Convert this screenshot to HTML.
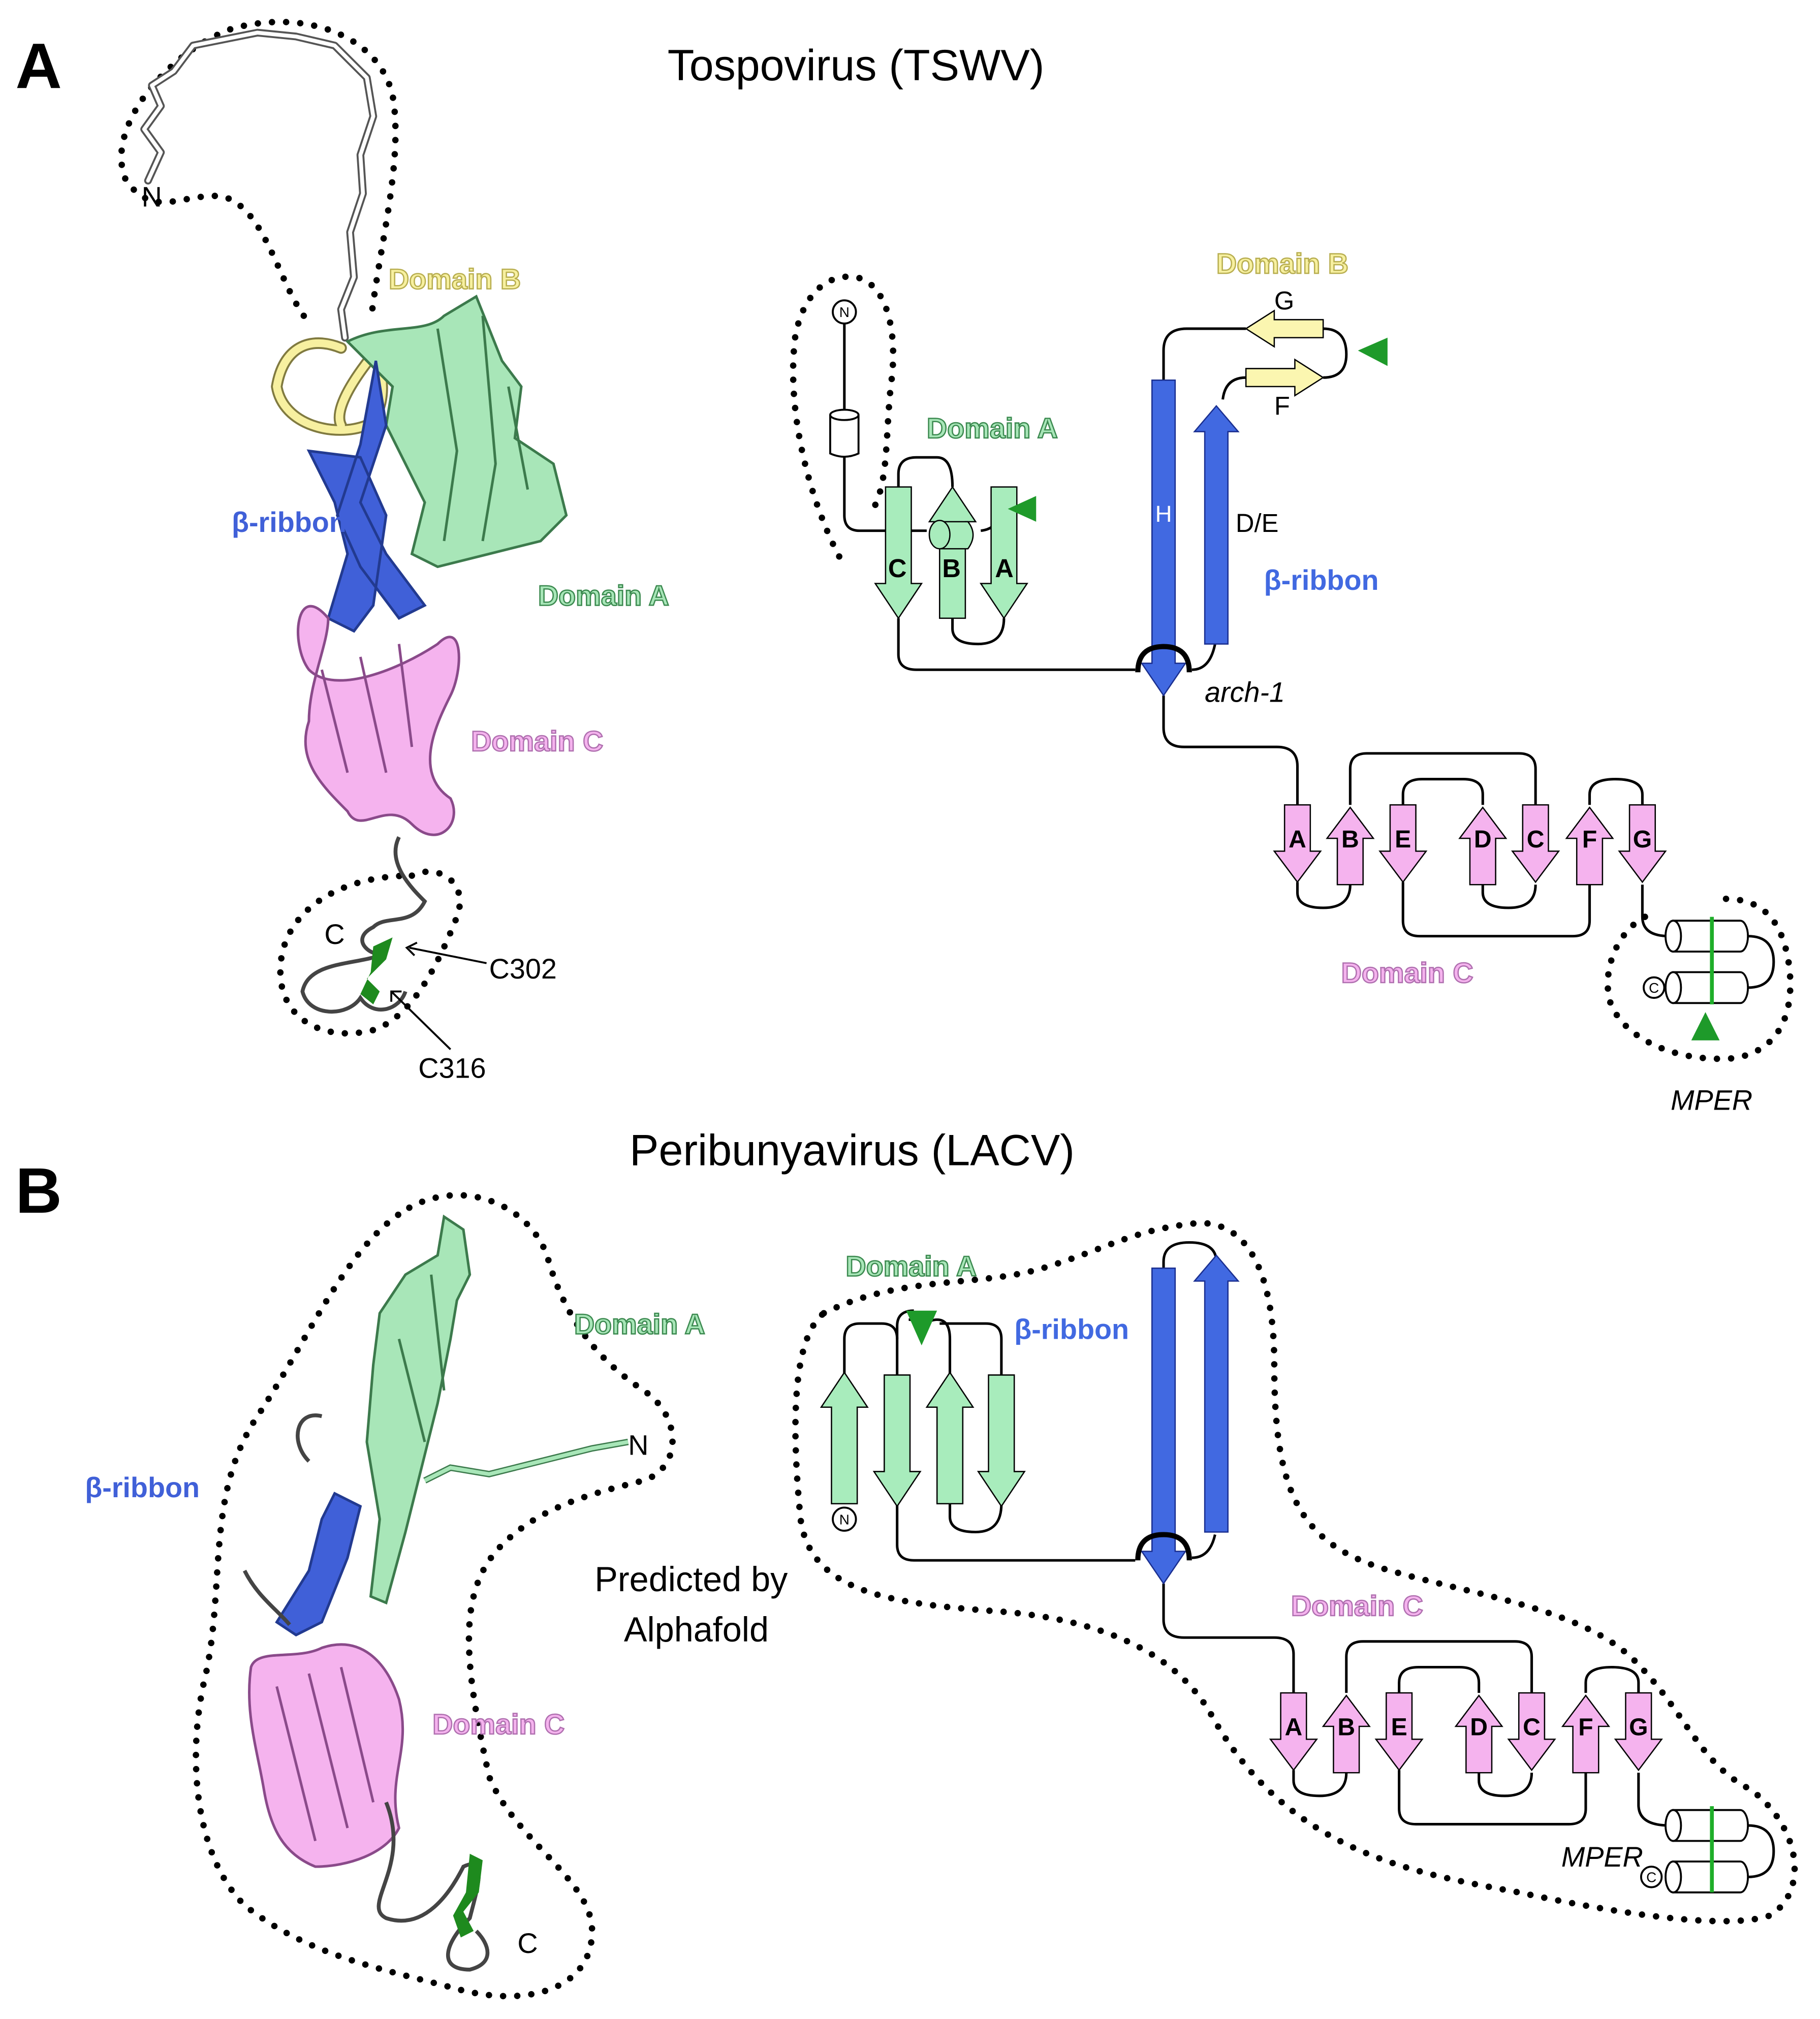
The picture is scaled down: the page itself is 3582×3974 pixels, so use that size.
<!DOCTYPE html>
<html><head><meta charset="utf-8"><style>
html,body{margin:0;padding:0;background:#fff}
svg{display:block}
text{font-family:"Liberation Sans","DejaVu Sans",sans-serif}
</style></head><body>
<svg width="3582" height="3974" viewBox="0 0 1414 1568" xmlns="http://www.w3.org/2000/svg">
<defs>
<path id="pd" d="M-10 0 H10 V36 H18 L0 60 L-18 36 H-10 Z"/>
<path id="gd" d="M-10 0 H10 V75 H18 L0 102 L-18 75 H-10 Z"/>
</defs>
<rect width="1414" height="1568" fill="#fff"/>
<g font-weight="bold" fill="#000">
<text x="12" y="68" font-size="50">A</text>
<text x="12" y="942" font-size="50">B</text>
</g>
<text x="665" y="62" font-size="34" text-anchor="middle">Tospovirus (TSWV)</text>
<text x="662" y="905" font-size="34" text-anchor="middle">Peribunyavirus (LACV)</text>

<g fill="none" stroke="#000" stroke-width="5" stroke-linecap="round" stroke-dasharray="0 11">
<!-- A left N loop -->
<path d="M236 245 C215 215 205 160 172 152 C140 150 120 170 98 140 C80 100 130 40 180 22 C240 5 300 30 306 80 C312 130 295 190 288 250"/>
<!-- A left C helix loop -->
<path d="M320 680 C340 670 365 685 355 712 C340 750 320 790 290 800 C250 810 215 790 218 750 C220 710 260 680 320 680"/>
<!-- A right N loop -->
<path d="M652 432 C630 390 610 320 618 260 C625 225 645 212 665 215 C690 220 698 260 692 300 C688 340 690 370 680 392"/>
<!-- A MPER loop -->
<path d="M1278 712 C1262 720 1245 745 1250 775 C1258 805 1300 825 1345 822 C1380 818 1395 790 1390 750 C1385 715 1370 698 1340 698"/>
<!-- B left big outline -->
<path d="M318 938 C360 915 410 935 425 975 C440 1030 470 1060 500 1080 C530 1100 530 1140 500 1150 C460 1160 420 1170 390 1200 C355 1235 360 1290 380 1380 C400 1430 460 1460 460 1500 C460 1545 410 1560 355 1545 C300 1530 240 1520 190 1480 C150 1440 145 1360 160 1300 C175 1230 160 1160 200 1100 C240 1040 270 965 318 938"/>
<!-- B right big outline -->
<path d="M640 1020 C700 990 760 1000 810 985 C860 970 880 955 930 950 C970 948 990 990 990 1060 C990 1160 1010 1200 1080 1220 C1150 1240 1230 1250 1270 1290 C1310 1330 1320 1370 1360 1390 C1400 1420 1405 1470 1375 1488 C1340 1500 1250 1485 1180 1470 C1100 1455 1000 1440 940 1330 C910 1280 850 1258 780 1252 C700 1246 630 1240 622 1180 C615 1110 615 1040 640 1020"/>
</g>

<!-- ===== A left cartoon ===== -->
<g fill="none" stroke-linejoin="round" stroke-linecap="round">
<path d="M115 140 L125 118 L112 100 L125 82 L118 66 L135 55 L150 35 L175 30 L200 25 L230 28 L260 35 L285 60 L290 90 L280 120 L282 150 L272 180 L275 215 L265 240 L268 262" stroke="#555" stroke-width="6"/>
<path d="M115 140 L125 118 L112 100 L125 82 L118 66 L135 55 L150 35 L175 30 L200 25 L230 28 L260 35 L285 60 L290 90 L280 120 L282 150 L272 180 L275 215 L265 240 L268 262" stroke="#fff" stroke-width="3"/>
<path d="M265 270 C240 260 220 270 215 300 C220 330 260 340 285 330 C300 320 300 290 290 275 C270 300 260 320 265 330" stroke="#807a40" stroke-width="9"/>
<path d="M265 270 C240 260 220 270 215 300 C220 330 260 340 285 330 C300 320 300 290 290 275 C270 300 260 320 265 330" stroke="#f7f0a0" stroke-width="6"/>
</g>
<g stroke="#3c7a4c" stroke-width="2" fill="#a8e6b8">
<path d="M270 265 C300 250 330 260 345 245 L370 230 L390 280 L405 300 L400 340 L430 360 L440 400 L420 420 L380 430 L340 440 L320 430 L330 390 L315 360 L300 330 L305 300 Z"/>
<path d="M340 255 L355 350 L345 420 M375 245 L385 360 L375 420 M395 300 L410 380" fill="none"/>
</g>
<path d="M292 280 L300 330 L280 390 L300 430 L330 470 L310 480 L280 440 L262 400 L280 345 Z M240 350 L280 355 L300 400 L290 470 L275 490 L255 480 L270 430 L260 390 Z" fill="#4060d8" stroke="#223a90" stroke-width="2"/>
<path d="M255 480 C230 450 225 500 240 520 C260 540 310 520 340 500 C360 480 360 520 350 540 C340 560 320 600 350 620 C360 640 340 660 320 640 C300 620 280 650 270 630 C250 610 230 590 240 560 C240 530 255 500 255 480 Z" fill="#f5b3ee" stroke="#8a4a8a" stroke-width="2"/>
<path d="M250 520 L270 600 M280 510 L300 600 M310 500 L320 580" stroke="#8a4a8a" stroke-width="2" fill="none"/>
<g fill="none" stroke="#444" stroke-width="3">
<path d="M310 650 C300 670 320 690 330 700 C320 720 300 710 290 720 C270 730 290 745 300 740 C280 750 240 745 235 770 C240 790 270 790 280 775 C290 790 310 785 315 770"/>
</g>
<path d="M290 735 L305 728 L300 745 L285 760 L295 770 L290 780 L280 772 L288 755 Z" fill="#1e8a1e"/>
<text x="110" y="160" font-size="22">N</text>
<text x="252" y="733" font-size="22">C</text>
<text x="380" y="760" font-size="22">C302</text>
<text x="325" y="837" font-size="22">C316</text>
<g stroke="#000" stroke-width="1.5" fill="none">
<path d="M378 748 L318 736 M324 732 L316 736 L322 742"/>
<path d="M350 815 L304 770 M304 778 L304 770 L312 770"/>
</g>
<g font-size="22" font-weight="bold" stroke-width="1">
<text x="302" y="224" fill="#f7f0a0" stroke="#b8ae50">Domain B</text>
<text x="180" y="413" fill="#4060d8">β-ribbon</text>
<text x="418" y="470" fill="#a8e6b8" stroke="#3c8a50">Domain A</text>
<text x="366" y="583" fill="#f5b3ee" stroke="#b070b0">Domain C</text>
</g>

<!-- ===== A right topology ===== -->
<g fill="none" stroke="#000" stroke-width="2">
<path d="M656 251 V318 M656 352 V400 Q656 412 668 412 H720"/>
<path d="M762 412 Q780 410 780 385"/>
<path d="M698 378 V368 Q698 355 712 355 H728 Q740 355 740 378"/>
<path d="M740 480 V488 Q740 500 760 500 Q780 500 780 480"/>
<path d="M698 480 V508 Q698 520 712 520 H882"/>
<path d="M926 520 Q940 520 944 500"/>
<path d="M904 295 V272 Q904 255 922 255 H968"/>
<path d="M1028 255 Q1046 255 1046 275 Q1046 293 1028 293"/>
<path d="M968 293 Q952 293 950 310"/>
<path d="M904 540 V565 Q904 580 920 580 H992 Q1008 580 1008 595 V625"/>
<path d="M1008 685 V693 Q1008 705 1028 705 Q1049 705 1049 687"/>
<path d="M1049 625 V597 Q1049 585 1062 585 H1180 Q1193 585 1193 597 V625"/>
<path d="M1090 625 V617 Q1090 605 1105 605 H1137 Q1152 605 1152 617 V625"/>
<path d="M1152 685 V693 Q1152 705 1172 705 Q1193 705 1193 687"/>
<path d="M1090 685 V715 Q1090 727 1103 727 H1222 Q1235 727 1235 715 V687"/>
<path d="M1235 625 V617 Q1235 605 1255 605 Q1276 605 1276 617 V625"/>
<path d="M1276 687 V712 Q1276 727 1297 727"/>
<path d="M1358 727 Q1378 727 1378 747 Q1378 767 1358 767"/>
</g>
<circle cx="656" cy="242" r="9" fill="#fff" stroke="#000" stroke-width="1.5"/>
<text x="656" y="246" font-size="11" text-anchor="middle">N</text>
<path d="M645 322 V352 Q656 357 667 352 V322" fill="#fff" stroke="#000" stroke-width="1.5"/>
<ellipse cx="656" cy="322" rx="11" ry="4" fill="#fff" stroke="#000" stroke-width="1.5"/>
<g fill="#a8ecbc" stroke="#000" stroke-width="1">
<use href="#gd" transform="translate(698,378)"/>
<use href="#gd" transform="translate(740,480) scale(1,-1)"/>
<use href="#gd" transform="translate(780,378)"/>
<path d="M730 405 H752 Q760 415 752 426 H730 Z"/>
<ellipse cx="730" cy="415" rx="8" ry="11"/>
</g>
<path d="M783 395 L805 385 V405 Z" fill="#1e9a2a"/>
<g font-size="20" font-weight="bold">
<text x="690" y="448">C</text><text x="732" y="448">B</text><text x="773" y="448">A</text>
</g>
<g fill="#4169e1" stroke="#1a2f90" stroke-width="1">
<path d="M895 295 H913 V515 H921 L904 540 L887 515 H895 Z"/>
<path d="M936 500 H954 V335 H962 L945 315 L928 335 H936 Z"/>
</g>
<text x="904" y="405" font-size="18" fill="#fff" text-anchor="middle">H</text>
<path d="M884 522 Q884 502 904 502 Q924 502 924 522" fill="none" stroke="#000" stroke-width="4"/>
<g fill="#fbf6b0" stroke="#000" stroke-width="1">
<path d="M1028 248 H990 V241 L968 255 L990 269 V262 H1028 Z"/>
<path d="M968 286 H1006 V279 L1028 293 L1006 307 V300 H968 Z"/>
</g>
<path d="M1055 272 L1078 262 V284 Z" fill="#1e9a2a"/>
<g font-size="20"><text x="990" y="240">G</text><text x="990" y="322">F</text><text x="960" y="413">D/E</text>
<text x="936" y="545" font-style="italic" font-size="22">arch-1</text>
<text x="1298" y="862" font-style="italic" font-size="22">MPER</text></g>
<g fill="#f5b3ee" stroke="#000" stroke-width="1">
<use href="#pd" transform="translate(1008,625)"/>
<use href="#pd" transform="translate(1049,687) scale(1,-1)"/>
<use href="#pd" transform="translate(1090,625)"/>
<use href="#pd" transform="translate(1152,687) scale(1,-1)"/>
<use href="#pd" transform="translate(1193,625)"/>
<use href="#pd" transform="translate(1235,687) scale(1,-1)"/>
<use href="#pd" transform="translate(1276,625)"/>
</g>
<g font-size="19" font-weight="bold" text-anchor="middle">
<text x="1008" y="658">A</text><text x="1049" y="658">B</text><text x="1090" y="658">E</text><text x="1152" y="658">D</text><text x="1193" y="658">C</text><text x="1235" y="658">F</text><text x="1276" y="658">G</text>
</g>
<g fill="#fff" stroke="#000" stroke-width="1.5">
<path d="M1300 715 H1352 A6 12 0 0 1 1352 739 H1300 Z"/><ellipse cx="1300" cy="727" rx="6" ry="12"/>
<path d="M1300 755 H1352 A6 12 0 0 1 1352 779 H1300 Z"/><ellipse cx="1300" cy="767" rx="6" ry="12"/>
</g>
<circle cx="1285" cy="767" r="8" fill="#fff" stroke="#000" stroke-width="1.5"/>
<text x="1285" y="771" font-size="11" text-anchor="middle">C</text>
<path d="M1330 712 V780" stroke="#1fae2a" stroke-width="3"/>
<path d="M1325 786 L1336 808 H1314 Z" fill="#1e9a2a"/>
<g font-size="22" font-weight="bold" stroke-width="1">
<text x="945" y="212" fill="#f7f0a0" stroke="#b8ae50">Domain B</text>
<text x="720" y="340" fill="#a8e6b8" stroke="#3c8a50">Domain A</text>
<text x="982" y="458" fill="#4169e1">β-ribbon</text>
<text x="1042" y="763" fill="#f5b3ee" stroke="#b070b0">Domain C</text>
</g>

<!-- ===== B left cartoon ===== -->
<g fill="#a8e6b8" stroke="#3c7a4c" stroke-width="2">
<path d="M345 945 L360 955 L365 990 L355 1010 L350 1040 L340 1090 L330 1130 L315 1190 L300 1245 L288 1240 L295 1180 L285 1120 L290 1060 L295 1020 L315 990 L340 975 Z"/>
<path d="M310 1040 L330 1120 M335 990 L345 1080" fill="none"/>
</g>
<path d="M330 1150 L350 1140 L380 1145 L400 1140 L420 1135 L440 1130 L460 1125 L488 1120" fill="none" stroke="#3c7a4c" stroke-width="5"/>
<path d="M330 1150 L350 1140 L380 1145 L400 1140 L420 1135 L440 1130 L460 1125 L488 1120" fill="none" stroke="#a8e6b8" stroke-width="3"/>
<path d="M260 1160 L280 1170 L270 1210 L250 1260 L230 1270 L215 1260 L240 1220 L250 1180 Z" fill="#4060d8" stroke="#223a90" stroke-width="2"/>
<path d="M250 1100 C230 1095 225 1120 240 1135 M190 1220 C200 1240 215 1250 225 1262" fill="none" stroke="#444" stroke-width="3"/>
<path d="M195 1295 C200 1280 230 1290 250 1280 C280 1270 300 1290 310 1320 C320 1360 300 1380 310 1420 C300 1440 270 1450 245 1450 C220 1440 210 1420 205 1390 C200 1360 190 1330 195 1295 Z" fill="#f5b3ee" stroke="#8a4a8a" stroke-width="2"/>
<path d="M215 1310 L245 1430 M240 1300 L270 1420 M265 1295 L290 1400" stroke="#8a4a8a" stroke-width="2" fill="none"/>
<path d="M300 1400 C320 1450 280 1480 300 1490 C330 1500 350 1470 360 1450 C380 1440 370 1470 365 1490 C345 1510 340 1530 365 1530 C385 1525 380 1510 370 1500" fill="none" stroke="#444" stroke-width="3"/>
<path d="M365 1440 L375 1445 L372 1470 L360 1485 L368 1500 L358 1505 L352 1488 L362 1470 Z" fill="#1e8a1e"/>
<text x="488" y="1130" font-size="22">N</text>
<text x="402" y="1517" font-size="22">C</text>
<text x="537" y="1236" font-size="27" text-anchor="middle">Predicted by</text>
<text x="541" y="1275" font-size="27" text-anchor="middle">Alphafold</text>
<g font-size="22" font-weight="bold" stroke-width="1">
<text x="446" y="1036" fill="#a8e6b8" stroke="#3c8a50">Domain A</text>
<text x="66" y="1163" fill="#4060d8">β-ribbon</text>
<text x="336" y="1347" fill="#f5b3ee" stroke="#b070b0">Domain C</text>
</g>

<!-- ===== B right topology ===== -->
<g fill="none" stroke="#000" stroke-width="2">
<path d="M656 1068 V1040 Q656 1028 668 1028 H685 Q697 1028 697 1040 V1068"/>
<path d="M697 1040 V1030 Q697 1018 710 1018"/>
<path d="M718 1038 Q718 1025 728 1025 Q738 1025 738 1040 V1068"/>
<path d="M718 1038 Q718 1025 706 1025"/>
<path d="M697 1168 V1200 Q697 1212 710 1212 H882"/>
<path d="M738 1168 V1178 Q738 1190 758 1190 Q778 1190 778 1168"/>
<path d="M778 1068 V1040 Q778 1028 766 1028 H730"/>
<path d="M926 1210 Q940 1210 944 1192"/>
<path d="M904 985 V980 Q904 965 924 965 Q945 965 945 980"/>
<path d="M904 1230 V1258 Q904 1272 920 1272 H990 Q1005 1272 1005 1285 V1315"/>
<path d="M1005 1375 V1383 Q1005 1395 1025 1395 Q1046 1395 1046 1377"/>
<path d="M1046 1315 V1287 Q1046 1275 1059 1275 H1177 Q1190 1275 1190 1287 V1315"/>
<path d="M1087 1315 V1307 Q1087 1295 1102 1295 H1134 Q1149 1295 1149 1307 V1315"/>
<path d="M1149 1375 V1383 Q1149 1395 1169 1395 Q1190 1395 1190 1377"/>
<path d="M1087 1375 V1405 Q1087 1417 1100 1417 H1219 Q1232 1417 1232 1405 V1377"/>
<path d="M1232 1315 V1307 Q1232 1295 1252 1295 Q1273 1295 1273 1307 V1315"/>
<path d="M1273 1377 V1402 Q1273 1418 1297 1418"/>
<path d="M1358 1418 Q1378 1418 1378 1438 Q1378 1458 1358 1458"/>
</g>
<g fill="#a8ecbc" stroke="#000" stroke-width="1">
<use href="#gd" transform="translate(656,1168) scale(1,-1)"/>
<use href="#gd" transform="translate(697,1068)"/>
<use href="#gd" transform="translate(738,1168) scale(1,-1)"/>
<use href="#gd" transform="translate(778,1068)"/>
</g>
<path d="M704 1018 H728 L716 1045 Z" fill="#1e9a2a"/>
<circle cx="656" cy="1180" r="9" fill="#fff" stroke="#000" stroke-width="1.5"/>
<text x="656" y="1184" font-size="11" text-anchor="middle">N</text>
<g fill="#4169e1" stroke="#1a2f90" stroke-width="1">
<path d="M895 985 H913 V1205 H921 L904 1230 L887 1205 H895 Z"/>
<path d="M936 1190 H954 V995 H962 L945 975 L928 995 H936 Z"/>
</g>
<path d="M884 1212 Q884 1192 904 1192 Q924 1192 924 1212" fill="none" stroke="#000" stroke-width="4"/>
<g fill="#f5b3ee" stroke="#000" stroke-width="1">
<use href="#pd" transform="translate(1005,1315)"/>
<use href="#pd" transform="translate(1046,1377) scale(1,-1)"/>
<use href="#pd" transform="translate(1087,1315)"/>
<use href="#pd" transform="translate(1149,1377) scale(1,-1)"/>
<use href="#pd" transform="translate(1190,1315)"/>
<use href="#pd" transform="translate(1232,1377) scale(1,-1)"/>
<use href="#pd" transform="translate(1273,1315)"/>
</g>
<g font-size="19" font-weight="bold" text-anchor="middle">
<text x="1005" y="1348">A</text><text x="1046" y="1348">B</text><text x="1087" y="1348">E</text><text x="1149" y="1348">D</text><text x="1190" y="1348">C</text><text x="1232" y="1348">F</text><text x="1273" y="1348">G</text>
</g>
<g fill="#fff" stroke="#000" stroke-width="1.5">
<path d="M1300 1406 H1352 A6 12 0 0 1 1352 1430 H1300 Z"/><ellipse cx="1300" cy="1418" rx="6" ry="12"/>
<path d="M1300 1446 H1352 A6 12 0 0 1 1352 1470 H1300 Z"/><ellipse cx="1300" cy="1458" rx="6" ry="12"/>
</g>
<circle cx="1283" cy="1458" r="8" fill="#fff" stroke="#000" stroke-width="1.5"/>
<text x="1283" y="1462" font-size="11" text-anchor="middle">C</text>
<path d="M1330 1403 V1470" stroke="#1fae2a" stroke-width="3"/>
<text x="1213" y="1450" font-size="22" font-style="italic">MPER</text>
<g font-size="22" font-weight="bold" stroke-width="1">
<text x="657" y="991" fill="#a8e6b8" stroke="#3c8a50">Domain A</text>
<text x="788" y="1040" fill="#4169e1">β-ribbon</text>
<text x="1003" y="1255" fill="#f5b3ee" stroke="#b070b0">Domain C</text>
</g>
</svg>
</body></html>
